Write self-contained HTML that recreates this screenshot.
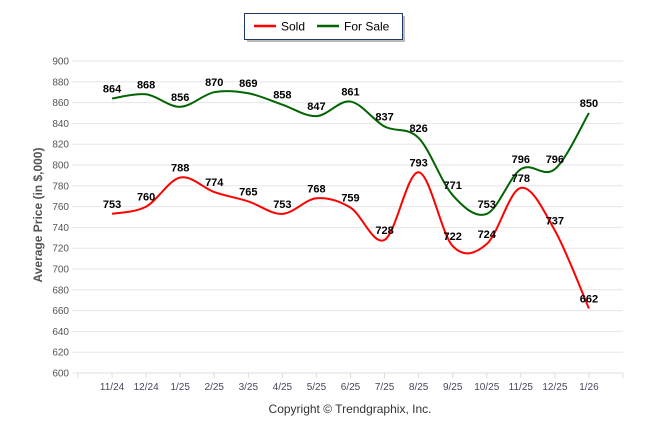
<!DOCTYPE html>
<html><head><meta charset="utf-8"><style>
body{margin:0;background:#fff;}
svg{display:block;font-family:"Liberation Sans",sans-serif;}
</style></head><body>
<svg id="c" width="646" height="434">
<g>
<rect x="247" y="16" width="158" height="26" fill="#bbb"/>
<rect x="244.5" y="13.5" width="158" height="26" fill="#fff" stroke="#1f3864" stroke-width="1"/>
<line x1="254" y1="26" x2="276" y2="26" stroke="#f00" stroke-width="2.5"/>
<text x="281" y="30.5" font-size="12">Sold</text>
<line x1="317" y1="26" x2="339" y2="26" stroke="#006400" stroke-width="2.5"/>
<text x="344" y="30.5" font-size="12">For Sale</text>
</g>
<text transform="translate(42,215) rotate(-90)" text-anchor="middle" font-size="12" font-weight="bold" fill="#555">Average Price (in $,000)</text>
<text x="350" y="413" text-anchor="middle" font-size="12" fill="#333">Copyright © Trendgraphix, Inc.</text>
<g id="grid"></g><g id="series"></g><g id="labels"></g>
</svg>
<script>
const categories=["11/24","12/24","1/25","2/25","3/25","4/25","5/25","6/25","7/25","8/25","9/25","10/25","11/25","12/25","1/26"];
const soldValues=[753,760,788,774,765,753,768,759,728,793,722,724,778,737,662];
const forSaleValues=[864,868,856,870,869,858,847,861,837,826,771,753,796,796,850];
const yTicks=[600,620,640,660,680,700,720,740,760,780,800,820,840,860,880,900];
const NS="http://www.w3.org/2000/svg";
const L=78,R=623,T=61,B=373,yMin=600,yMax=900;
const band=(R-L)/(categories.length+1);
const xs=i=>L+band*(i+1);
const ys=v=>B-(v-yMin)/(yMax-yMin)*(B-T);
function mk(tag,a,p){const e=document.createElementNS(NS,tag);for(const k in a)e.setAttribute(k,a[k]);p.appendChild(e);return e;}
const grid=document.getElementById('grid'),ser=document.getElementById('series'),lab=document.getElementById('labels');
yTicks.forEach(t=>{
 const g=mk('line',{x1:72,x2:R,y1:ys(t),y2:ys(t),stroke:'#e6e6e6','stroke-width':1},grid);
 
 
 const tx=mk('text',{x:69,y:ys(t)+3.5,'text-anchor':'end','font-size':10,fill:'#555'},grid);
 tx.textContent=t;
 
 
});
const ax=mk('line',{x1:L,x2:R,y1:B,y2:B,stroke:'#ddd'},grid);


for(let i=0;i<=categories.length+1;i++){
 const tk=mk('line',{x1:L+band*i,x2:L+band*i,y1:B,y2:B+5,stroke:'#ddd'},grid);
 
 
}
categories.forEach((c,i)=>{
 const tx=mk('text',{x:xs(i),y:390,'text-anchor':'middle','font-size':10,fill:'#4a4560'},grid);
 tx.textContent=c;
 
 
});
function path(vals){
 const p=vals.map((v,i)=>[xs(i),ys(v)]);let d=`M${p[0][0]},${p[0][1]}`;
 for(let i=0;i<p.length-1;i++){
  const p0=p[i-1]||p[i],p1=p[i],p2=p[i+1],p3=p[i+2]||p2,k=1/6;
  d+=` C${p1[0]+(p2[0]-p0[0])*k},${p1[1]+(p2[1]-p0[1])*k} ${p2[0]-(p3[0]-p1[0])*k},${p2[1]-(p3[1]-p1[1])*k} ${p2[0]},${p2[1]}`;
 }return d;}
[[forSaleValues,'#006400','for-sale-line'],[soldValues,'#f00','sold-line']].forEach(([vals,col,nm])=>{
 const pe=mk('path',{d:path(vals),fill:'none',stroke:col,'stroke-width':2},ser);
 
 
 vals.forEach((v,i)=>{
  const tx=mk('text',{x:xs(i),y:ys(v)-6,'text-anchor':'middle','font-size':11,'font-weight':'bold',fill:'#000'},lab);
  tx.textContent=v;
  
  
 });
});
</script>
</body></html>
